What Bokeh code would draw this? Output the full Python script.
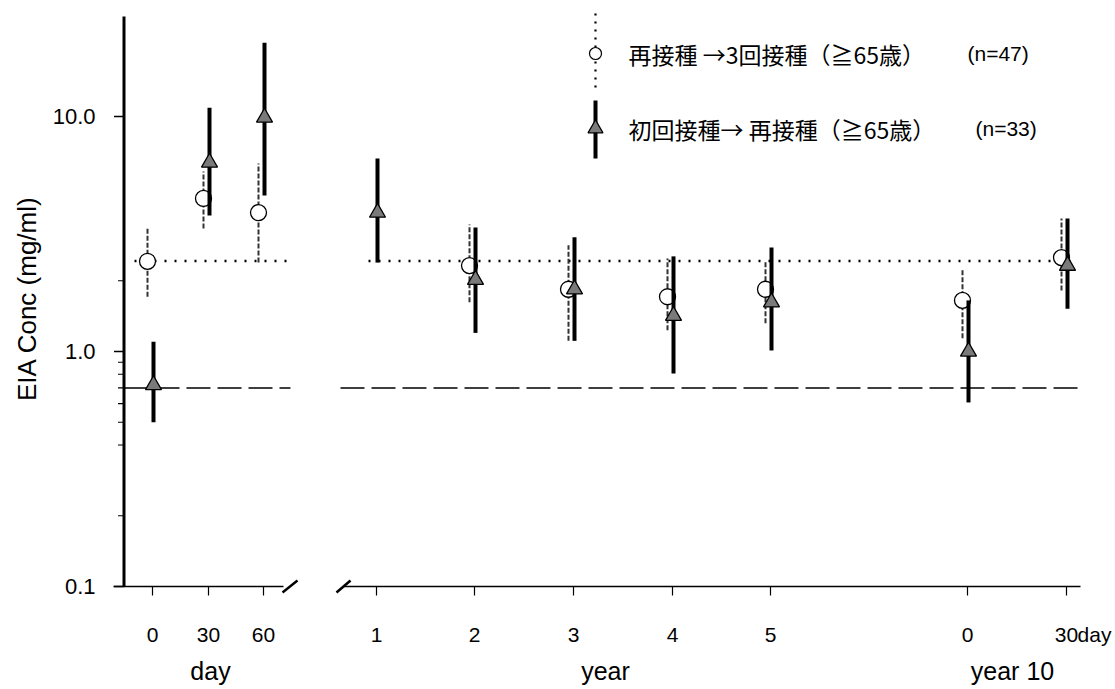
from bokeh.plotting import figure
from bokeh.models import Range1d, FixedTicker, PrintfTickFormatter, LinearAxis, ColumnDataSource
from bokeh.core.properties import value
from bokeh.embed import file_html
from bokeh.resources import INLINE

nan = float("nan")

# ---------------- data ----------------
categories = ["day 0", "day 30", "day 60", "year 1", "year 2", "year 3",
              "year 4", "year 5", "year 10 day 0", "year 10 day 30"]
tick_labels = ["0", "30", "60", "1", "2", "3", "4", "5", "0", "30"]
unit_suffix = "day"

# 再接種 →3回接種 (≧65歳) (n=47)  -- open circles
circ_mean = [2.42, 4.48, 3.90, nan, 2.32, 1.84, 1.71, 1.84, 1.65, 2.51]
circ_hi   = [3.34, 5.83, 6.31, nan, 3.47, 2.83, 2.49, 2.44, 2.26, 3.68]
circ_lo   = [1.71, 3.34, 2.39, nan, 1.62, 1.11, 1.23, 1.32, 1.14, 1.82]

# 初回接種→ 再接種 (≧65歳) (n=33)  -- grey triangles
tri_mean = [0.72, 6.37, 9.90, 3.90, 2.02, 1.84, 1.42, 1.62, 1.00, 2.32]
tri_hi   = [1.10, 10.9, 20.6, 6.62, 3.37, 3.06, 2.54, 2.77, 1.65, 3.68]
tri_lo   = [0.50, 3.79, 4.61, 2.39, 1.20, 1.11, 0.806, 1.01, 0.607, 1.52]

ref_dotted = 2.43   # baseline level of the revaccination group
ref_dashed = 0.70   # baseline level of the first-vaccination group

y_ticks = [0.1, 1.0, 10.0]
y_minor = [0.2, 0.4, 0.5, 0.6, 0.7, 0.8, 0.9, 2.0]

legend_circ = "再接種 →3回接種（≧65歳）"
legend_circ_n = "(n=47)"
legend_tri = "初回接種→ 再接種（≧65歳）"
legend_tri_n = "(n=33)"
y_title = "EIA Conc (mg/ml)"
group_labels = ["day", "year", "year 10"]

# ---------------- layout ----------------
W, H = 1115, 689
FL, FT, FB = 110, 0, 596          # frame left/top/bottom (px)
AXIS_ROW = 586                     # row of the x axis line (value 0.1)
DEC = 235.0                        # px per decade
Y0 = 0.1
def yv(row):                       # layout helper: screen row -> data value
    return Y0 * 10 ** ((AXIS_ROW - row) / DEC)

# slot positions (x range is expressed in px-like layout units)
day_x = [152 + d * 55.5 / 30 for d in (0, 30, 60)]
year_x = [376 + (k - 1) * 98.5 for k in (1, 2, 3, 4, 5)]
y10_x = [376 + 6 * 98.5, 376 + 7 * 98.5]
xpos = [int(round(v)) for v in day_x + year_x + y10_x]
suffix_x = xpos[-1] + 28
group_x = [210, 605, 1012]
C_OFF, T_OFF = -5, 1
YAX = 123.5                        # x of the vertical axis line

p = figure(width=W, height=H, x_range=Range1d(FL, W), y_range=Range1d(yv(FB), yv(FT)),
           y_axis_type="log", output_backend="svg", toolbar_location=None,
           min_border_left=FL, min_border_right=0, min_border_top=FT,
           min_border_bottom=H - FB)
p.outline_line_color = None
p.xgrid.visible = False
p.ygrid.visible = False
p.background_fill_color = "white"
p.border_fill_color = "white"

FONT = "Liberation Sans"
CJK = "Noto Sans CJK JP"

# y axis: labels + title from Bokeh, tick marks drawn below
ya = p.yaxis[0]
ya.ticker = FixedTicker(ticks=y_ticks, minor_ticks=y_minor)
ya.formatter = PrintfTickFormatter(format="%.1f")
ya.axis_line_color = None
ya.major_tick_line_color = None
ya.minor_tick_line_color = None
ya.major_tick_out = 0
ya.minor_tick_out = 0
ya.major_label_standoff = 15
ya.major_label_text_font = FONT
ya.major_label_text_font_size = "22px"
ya.major_label_text_color = "black"
ya.axis_label = y_title
ya.axis_label_text_font = FONT
ya.axis_label_text_font_size = "26px"
ya.axis_label_text_font_style = "normal"
ya.axis_label_text_color = "black"
ya.axis_label_standoff = 8

# x axis: tick labels (tick marks drawn below)
xa = p.xaxis[0]
xa.ticker = FixedTicker(ticks=xpos + [suffix_x])
overrides = {xv: lab for xv, lab in zip(xpos, tick_labels)}
overrides[suffix_x] = unit_suffix
xa.major_label_overrides = overrides
xa.axis_line_color = None
xa.major_tick_line_color = None
xa.minor_tick_line_color = None
xa.major_tick_out = 0
xa.major_label_standoff = 26
xa.major_label_text_font = FONT
xa.major_label_text_font_size = "21px"
xa.major_label_text_color = "black"

# second axis row: group labels
ga = LinearAxis(ticker=FixedTicker(ticks=group_x),
                major_label_overrides={gx: g for gx, g in zip(group_x, group_labels)})
ga.axis_line_color = None
ga.major_tick_line_color = None
ga.minor_tick_line_color = None
ga.major_tick_out = 0
ga.major_label_standoff = 8
ga.major_label_text_font = FONT
ga.major_label_text_font_size = "25px"
ga.major_label_text_color = "black"
p.add_layout(ga, "below")

# vertical axis line and its ticks
p.segment(x0=[YAX], y0=[Y0], x1=[YAX], y1=[yv(16)], line_color="black", line_width=3)
p.segment(x0=[YAX - 10] * len(y_ticks), y0=y_ticks, x1=[YAX] * len(y_ticks), y1=y_ticks,
          line_color="black", line_width=1.5)
p.segment(x0=[YAX - 6] * len(y_minor), y0=y_minor, x1=[YAX] * len(y_minor), y1=y_minor,
          line_color="black", line_width=1.2)

# horizontal axis line with break marks, and its ticks
p.segment(x0=[113, 343], y0=[Y0, Y0], x1=[283, 1080], y1=[Y0, Y0],
          line_color="black", line_width=1.6)
p.segment(x0=[282, 336], y0=[yv(592)] * 2, x1=[297, 350], y1=[yv(580)] * 2,
          line_color="black", line_width=2.5)
p.segment(x0=xpos, y0=[Y0] * len(xpos), x1=xpos, y1=[yv(595)] * len(xpos),
          line_color="black", line_width=1.2)

# reference lines
p.segment(x0=[134, 368], y0=[ref_dotted] * 2, x1=[290, 1078], y1=[ref_dotted] * 2,
          line_color="black", line_width=2.5, line_dash="2 8")
p.segment(x0=[124, 340], y0=[ref_dashed] * 2, x1=[290, 1078], y1=[ref_dashed] * 2,
          line_color="black", line_width=1.5, line_dash="24 7")

# circle series
cx = [x + C_OFF for x in xpos]
src_c = ColumnDataSource(dict(x=cx, m=circ_mean, lo=circ_lo, hi=circ_hi))
p.segment(x0="x", y0="lo", x1="x", y1="hi", source=src_c, line_color="#333333",
          line_width=2, line_dash="5 2")
p.scatter(x="x", y="m", source=src_c, marker="circle", size=16,
          fill_color="white", line_color="black", line_width=1.3)

# triangle series
tx = [x + T_OFF for x in xpos]
src_t = ColumnDataSource(dict(x=tx, m=tri_mean, lo=tri_lo, hi=tri_hi))
p.segment(x0="x", y0="lo", x1="x", y1="hi", source=src_t, line_color="black", line_width=4)
p.scatter(x="x", y="m", source=src_t, marker="triangle", size=16,
          fill_color="#7a7a7a", line_color="black", line_width=1.3)

# legend
LX = 595
r1, r2 = yv(53), yv(128)
p.segment(x0=[LX], y0=[yv(87)], x1=[LX], y1=[yv(10)], line_color="black",
          line_width=2.2, line_dash="2 6")
p.scatter(x=[LX], y=[r1], marker="circle", size=12, fill_color="white",
          line_color="black", line_width=1.2)
p.segment(x0=[LX], y0=[yv(158)], x1=[LX], y1=[yv(100)], line_color="black", line_width=4)
p.scatter(x=[LX], y=[r2], marker="triangle", size=15, fill_color="#7a7a7a",
          line_color="black", line_width=1.2)
p.text(x=[628, 628], y=[r1, r2], text=[legend_circ, legend_tri], text_font=value(CJK),
       text_font_size="23px", text_baseline="middle", text_align="left", text_color="black")
p.text(x=[967, 975], y=[r1, r2], text=[legend_circ_n, legend_tri_n], text_font=value(FONT),
       text_font_size="21px", text_baseline="middle", text_align="left", text_color="black")

open("out.html", "w").write(file_html(p, INLINE))
